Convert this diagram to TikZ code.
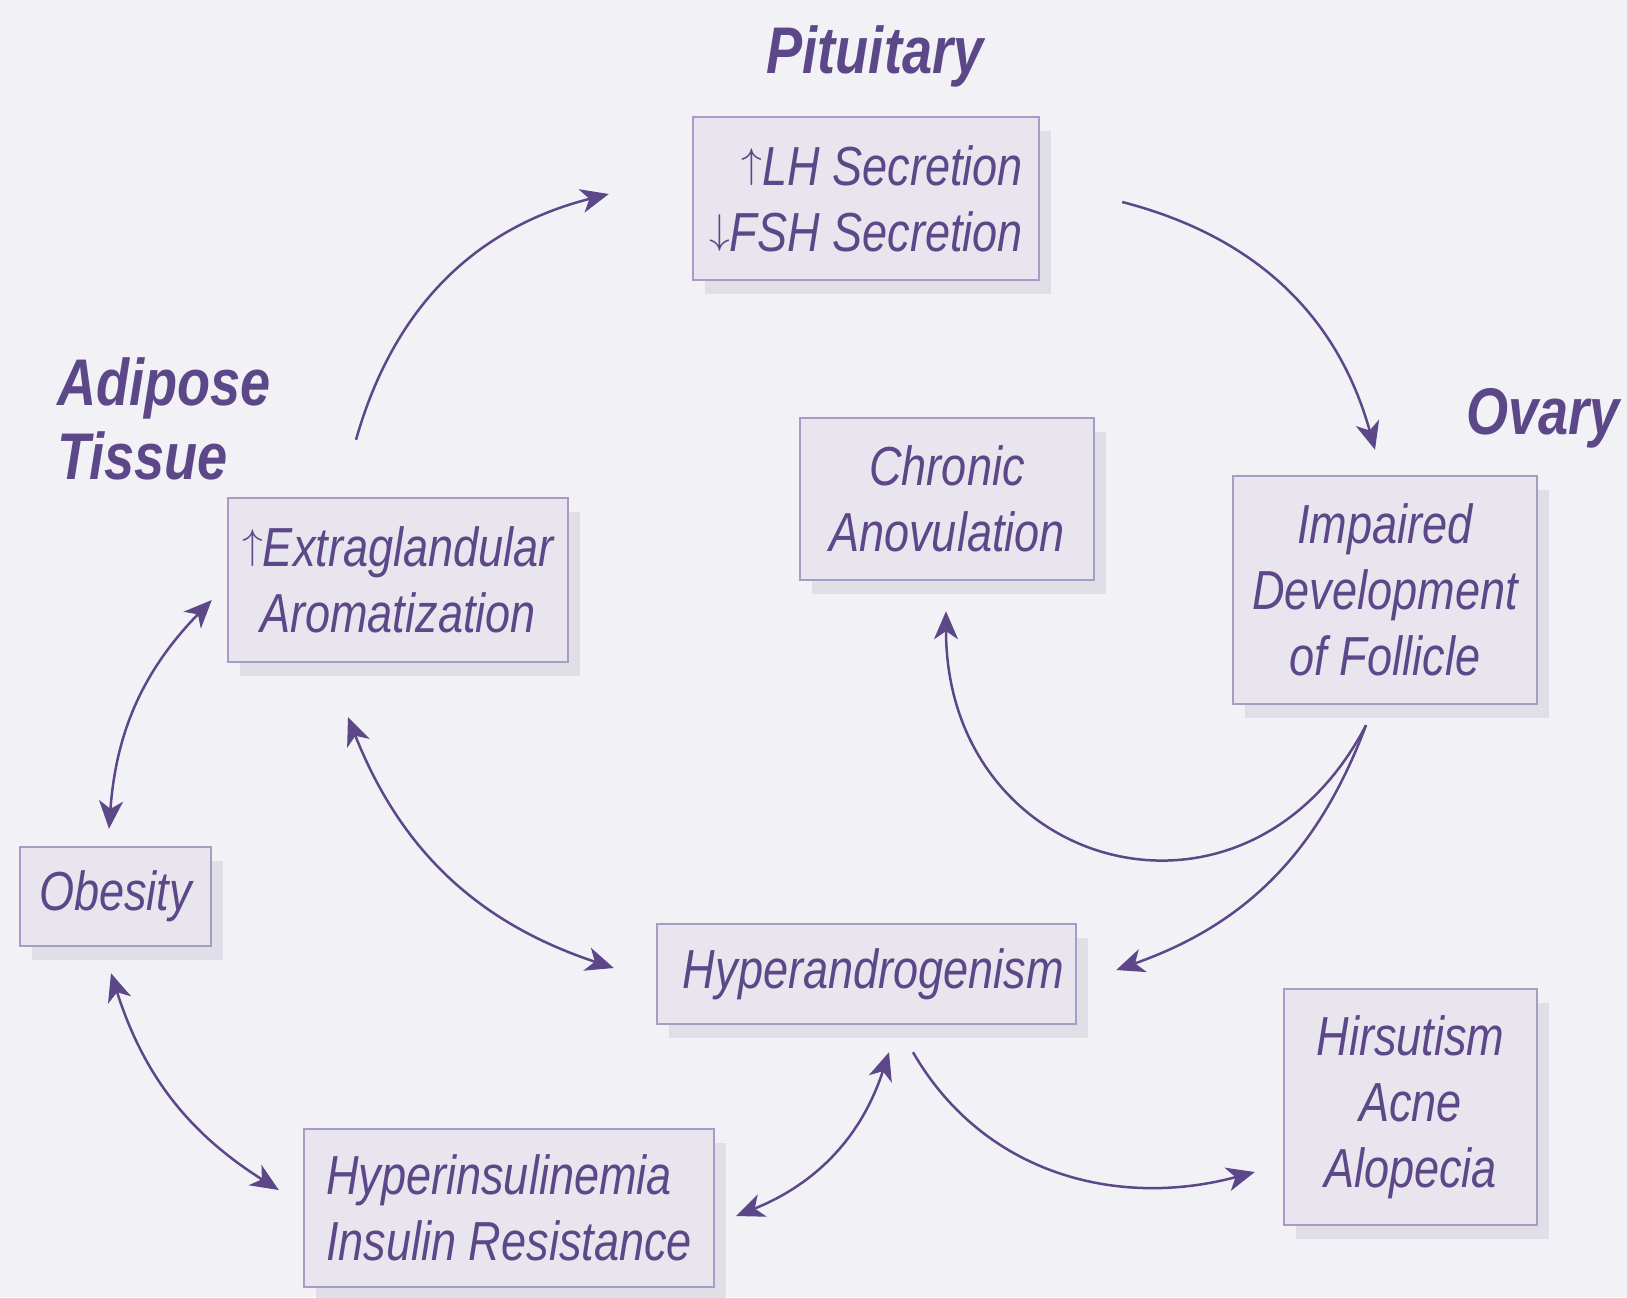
\documentclass[tikz,border=0pt]{standalone}
\usepackage{fontspec}
\setmainfont{Liberation Sans}[FakeStretch=0.82]
\usepackage{tikz}
\usetikzlibrary{positioning,arrows.meta,calc,shadows}
\definecolor{ink}{RGB}{92,72,136}
\definecolor{edge}{RGB}{170,154,198}
\definecolor{boxfill}{RGB}{232,229,238}
\definecolor{shade}{RGB}{224,222,231}
\definecolor{paper}{RGB}{242,241,246}
\newcommand{\uparr}{\raisebox{4pt}{\fontsize{21}{21}\selectfont$\uparrow$}}
\newcommand{\downarr}{\raisebox{4pt}{\fontsize{21}{21}\selectfont$\downarrow$}}

\begin{document}
\begin{tikzpicture}[x=0.5pt, y=0.5pt,
  font=\fontsize{27.5}{33}\selectfont\itshape, text=ink,
  box/.style={draw=edge, line width=1.2pt, fill=boxfill, align=center, inner sep=0pt,
    drop shadow={shadow xshift=6pt, shadow yshift=-7pt, fill=shade, opacity=1}},
  region/.style={font=\fontsize{33}{37}\selectfont\bfseries\itshape, text=ink},
  flow/.style={-{Stealth[length=14pt, width=12pt, inset=4pt]}, line width=1.25pt, draw=ink},
  both/.style={{Stealth[length=14pt, width=12pt, inset=4pt]}-{Stealth[length=14pt, width=12pt, inset=4pt]}, line width=1.25pt, draw=ink}]
  \fill[paper] (0,0) rectangle (1627,-1297);
  \useasboundingbox (0,0) rectangle (1627,-1297);
  % regions
  \node[region, anchor=base] (pituitary) at (875,-73) {Pituitary};
  \node[region, align=left, anchor=west] (adipose) at (50,-419) {Adipose\\Tissue};
  \node[region, anchor=base] (ovary) at (1543,-434) {Ovary};
  % boxes
  \node[box, minimum width=173pt, minimum height=81.5pt, align=right] (lh) at (866,-198.5) {\uparr LH Secretion\\\downarr FSH Secretion};
  \node[box, minimum width=147pt, minimum height=81pt] (chr) at (947,-499) {Chronic\\Anovulation};
  \node[box, minimum width=152pt, minimum height=114pt] (imp) at (1385,-590) {Impaired\\Development\\of Follicle};
  \node[box, minimum width=170pt, minimum height=82pt] (ext) at (398,-580) {\uparr Extraglandular\\Aromatization};
  \node[box, minimum width=95.5pt, minimum height=49.5pt] (obe) at (115.5,-896.5) {Obesity};
  \node[box, minimum width=209.5pt, minimum height=50pt] (hyp) at (866.5,-974) {\hspace{7pt}Hyperandrogenism};
  \node[box, minimum width=126.5pt, minimum height=118pt] (hir) at (1410.5,-1107) {Hirsutism\\Acne\\Alopecia};
  \node[box, minimum width=205pt, minimum height=79pt, align=left] (ins) at (509,-1208) {Hyperinsulinemia\\Insulin Resistance};
  % connectors
  \draw[flow] ($(ext.north)+(-42,57)$) to[bend left=30] ($(lh.west)+(-83,4.5)$);
  \draw[flow] ($(lh.east)+(82,-3.5)$) to[bend left=30] ($(imp.north)+(-10,25)$);
  \draw[flow] ($(imp.south)+(-19,-20)$) .. controls +(-120,-230) and +(0,-260) .. ($(chr.south)+(-1,-30)$);
  \draw[flow] ($(imp.south)+(-19,-20)$) to[bend left=25] ($(hyp.east)+(39,4)$);
  \draw[both] ($(ext.south)+(-50,-54)$) to[bend right=25] ($(hyp.west)+(-42,6)$);
  \draw[both] ($(ext.west)+(-15,-20)$) to[bend right=20] ($(obe.north)+(-6.5,17)$);
  \draw[both] ($(obe.south)+(-4.5,-26)$) to[bend right=20] ($(ins.west)+(-24,18)$);
  \draw[both] ($(ins.east)+(21,-8)$) to[bend right=25] ($(hyp.south)+(22.5,-27)$);
  \draw[flow] ($(hyp.south)+(46.5,-27)$) to[out=-60, in=195] ($(hir.west)+(-28,-65)$);
\end{tikzpicture}
\end{document}
